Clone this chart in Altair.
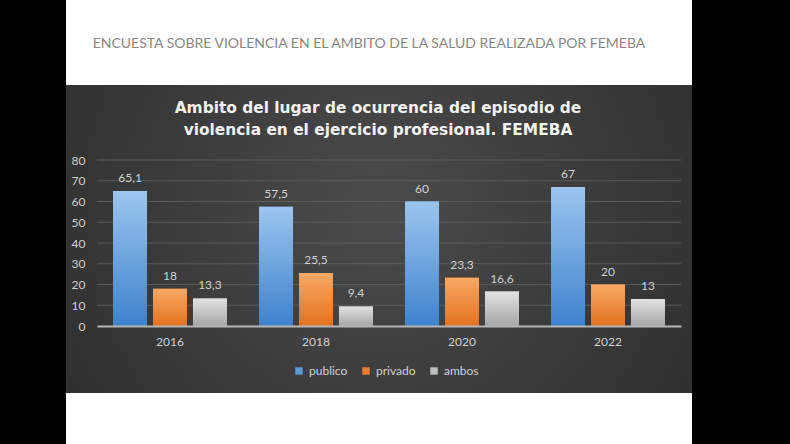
import altair as alt
import pandas as pd

years = ["2016", "2018", "2020", "2022"]
series = ["publico", "privado", "ambos"]
publico = [65.1, 57.5, 60, 67]
privado = [18, 25.5, 23.3, 20]
ambos = [13.3, 9.4, 16.6, 13]
y_ticks = [0, 10, 20, 30, 40, 50, 60, 70, 80]

header = "ENCUESTA SOBRE VIOLENCIA EN EL AMBITO DE LA SALUD REALIZADA POR FEMEBA"
title_lines = ["Ambito del lugar de ocurrencia del episodio de",
               "violencia en el ejercicio profesional. FEMEBA"]

solid = ["#5b9bd5", "#ed7d31", "#bfbfbf"]
grad_stops = {
    "publico": ("#9cc5ee", "#3f82cc"),
    "privado": ("#f8a866", "#e2721f"),
    "ambos": ("#e2e2e2", "#a6a6a6"),
}

rows = []
for i, yr in enumerate(years):
    for s, vals in zip(series, [publico, privado, ambos]):
        v = vals[i]
        rows.append({"year": yr, "serie": s, "value": v,
                     "label": f"{v:g}".replace(".", ",")})
df = pd.DataFrame(rows)
grid_df = pd.DataFrame({"value": y_ticks[1:]})

one = pd.DataFrame([{"k": 0}])

x_enc = alt.X("year:N", sort=years, title=None,
              scale=alt.Scale(paddingInner=0.22, paddingOuter=0.11),
              axis=alt.Axis(labelAngle=0, ticks=False, domainColor="#b5b5b5",
                            domainWidth=2, labelColor="#d2d2d2", labelFontSize=12,
                            labelFont="Lato", labelPadding=10, grid=False, zindex=1))
xoff = alt.XOffset("serie:N", sort=series,
                   scale=alt.Scale(paddingInner=0.15, paddingOuter=0))
y_scale = alt.Scale(domain=[0, 80])
y_axis = alt.Axis(values=y_ticks, ticks=False, domain=False,
                  labelColor="#cfcfcf", labelFontSize=12, labelFont="Lato",
                  labelPadding=12, grid=False, zindex=1)
y_enc = alt.Y("value:Q", title=None, scale=y_scale, axis=y_axis)

bg_white = alt.Chart(one).mark_rect(color="#ffffff").encode(
    x=alt.value(-31), x2=alt.value(595), y=alt.value(-160), y2=alt.value(284))

bg_dark = alt.Chart(one).mark_rect(
    color=alt.RadialGradient(
        gradient="radial", x1=0.5, y1=0.45, r1=0, x2=0.5, y2=0.45, r2=0.75,
        stops=[alt.GradientStop(color="#4b4b4b", offset=0),
               alt.GradientStop(color="#282828", offset=1)])
).encode(x=alt.value(-31), x2=alt.value(595), y=alt.value(-75), y2=alt.value(233))

head = alt.Chart(one).mark_text(text=header, font="Lato", fontSize=14,
                                color="#878787").encode(
    x=alt.value(272), y=alt.value(-116))

t1 = alt.Chart(one).mark_text(text=title_lines[0], font="DejaVu Sans", fontWeight="bold",
                              fontSize=15.4, color="#f2f2f2").encode(
    x=alt.value(281), y=alt.value(-52))
t2 = alt.Chart(one).mark_text(text=title_lines[1], font="DejaVu Sans", fontWeight="bold",
                              fontSize=15.4, color="#f2f2f2").encode(
    x=alt.value(281), y=alt.value(-30))

grid = alt.Chart(grid_df).mark_rule(color="#5a5a5a", strokeWidth=1).encode(
    y=y_enc, x=alt.value(0), x2=alt.value(584))

base = alt.Chart(df)

bars = base.mark_bar().encode(
    x=x_enc, xOffset=xoff, y=y_enc,
    color=alt.Color("serie:N", sort=series,
                    scale=alt.Scale(domain=series, range=solid),
                    legend=alt.Legend(title=None, orient="none", direction="horizontal",
                                      legendX=196, legendY=205, symbolType="square",
                                      symbolSize=55, symbolStrokeWidth=0,
                                      labelColor="#d2d2d2", labelFontSize=12,
                                      labelFont="Lato", columnPadding=12,
                                      labelOffset=4, symbolOpacity=1)))

grad_layers = []
for s in series:
    top, bot = grad_stops[s]
    grad_layers.append(
        base.transform_filter(alt.datum.serie == s).mark_bar(
            color=alt.LinearGradient(
                gradient="linear", x1=0, y1=0, x2=0, y2=1,
                stops=[alt.GradientStop(color=top, offset=0),
                       alt.GradientStop(color=bot, offset=1)])
        ).encode(x=x_enc, xOffset=xoff, y=y_enc))

labels = base.mark_text(baseline="bottom", dy=-6, fontSize=12, font="Lato",
                        color="#d2d2d2").encode(
    x=x_enc, xOffset=xoff, y=y_enc, text="label:N")

chart = alt.layer(bg_white, bg_dark, head, t1, t2, grid, bars, *grad_layers, labels).properties(
    width=584, height=166,
    autosize=alt.AutoSizeParams(type="none"),
    padding={"left": 97, "top": 160, "right": 109, "bottom": 118},
    background="#000000",
).configure_view(strokeWidth=0)

chart.save("out.html", embed_options={"renderer": "svg", "actions": False})
